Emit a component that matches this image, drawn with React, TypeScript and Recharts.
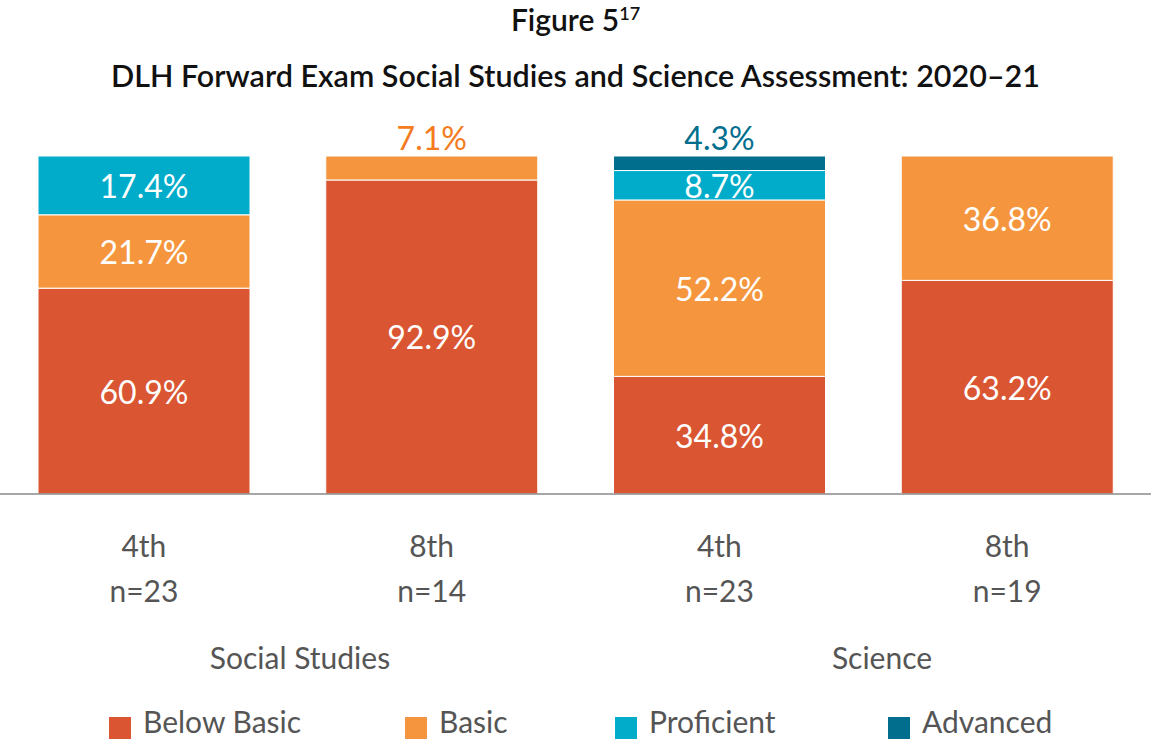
import React from 'react'
import { BarChart, Bar, XAxis, YAxis, LabelList } from 'recharts'

const grades = ['4th', '8th', '4th', '8th']
const counts = ['n=23', 'n=14', 'n=23', 'n=19']
const belowBasic = [60.9, 92.9, 34.8, 63.2]
const basic = [21.7, 7.1, 52.2, 36.8]
const proficient = [17.4, 0, 8.7, 0]
const advanced = [0, 0, 4.3, 0]

const subjects = [
  { name: 'Social Studies', center: 300 },
  { name: 'Science', center: 882 },
]

const series = [
  { key: 'belowBasic', name: 'Below Basic', color: '#DA5532', smallColor: '#DA5532' },
  { key: 'basic', name: 'Basic', color: '#F5963E', smallColor: '#F47B20' },
  { key: 'proficient', name: 'Proficient', color: '#00ACC9', smallColor: '#00ACC9' },
  { key: 'advanced', name: 'Advanced', color: '#006E8C', smallColor: '#006E8C' },
]

const data = grades.map((g, i) => ({
  id: i,
  grade: g,
  count: counts[i],
  belowBasic: belowBasic[i],
  basic: basic[i],
  proficient: proficient[i],
  advanced: advanced[i],
}))

const FONT = 'Lato, "Open Sans", sans-serif'

const makeLabel = (smallColor: string) => (props: any) => {
  const { x, y, width, height, value } = props
  if (!value) return null
  const small = value < 8
  return (
    <text
      x={x + width / 2}
      y={small ? y - 19 : y + height / 2}
      fill={small ? smallColor : '#fff'}
      textAnchor="middle"
      dominantBaseline="central"
      fontSize={32}
      fontFamily={FONT}
    >
      {value.toFixed(1)}%
    </text>
  )
}

const Tick = (props: any) => {
  const { x, y, payload } = props
  const i = payload.index
  return (
    <g fontFamily={FONT} fontSize={30} fill="#555">
      <text x={x} y={y + 43} textAnchor="middle" dominantBaseline="central">
        {grades[i]}
      </text>
      <text x={x} y={y + 88} textAnchor="middle" dominantBaseline="central">
        {counts[i]}
      </text>
    </g>
  )
}

export default function App() {
  return (
    <div style={{ position: 'absolute', left: 0, top: 0, width: 1151, height: 743, background: '#fff', fontFamily: FONT }}>
      <div style={{ position: 'absolute', top: 1, width: '100%', textAlign: 'center', fontSize: 30, fontWeight: 600, color: '#111' }}>
        Figure 5<sup style={{ fontSize: 18 }}>17</sup>
      </div>
      <div style={{ position: 'absolute', top: 57, width: '100%', textAlign: 'center', fontSize: 30.5, fontWeight: 600, color: '#111' }}>
        DLH Forward Exam Social Studies and Science Assessment: 2020–21
      </div>
      <BarChart
        width={1151}
        height={620}
        data={data}
        margin={{ top: 156, right: 0, bottom: 0, left: 0 }}
        barSize={212}
        style={{ position: 'absolute', top: 0, left: 0 }}
      >
        <YAxis hide domain={[0, 100]} />
        <XAxis
          dataKey="id"
          height={126}
          tickLine={false}
          axisLine={{ stroke: '#8a8a8a', strokeWidth: 1.5 }}
          tick={<Tick />}
          interval={0}
        />
        {series.map((s) => (
          <Bar key={s.key} dataKey={s.key} name={s.name} stackId="a" fill={s.color} stroke="#fff" strokeWidth={1} isAnimationActive={false}>
            <LabelList dataKey={s.key} content={makeLabel(s.smallColor)} />
          </Bar>
        ))}
      </BarChart>
      {subjects.map((s) => (
        <div
          key={s.name}
          style={{ position: 'absolute', top: 639, left: s.center - 150, width: 300, textAlign: 'center', fontSize: 30, color: '#555' }}
        >
          {s.name}
        </div>
      ))}
      {series.map((s, i) => (
        <div
          key={s.key}
          style={{ position: 'absolute', top: 703, left: [109, 405, 615, 888][i], display: 'flex', alignItems: 'center', fontSize: 30, color: '#555' }}
        >
          <span style={{ display: 'inline-block', width: 22, height: 22, background: s.color, marginRight: 12, marginTop: 14 }} />
          {s.name}
        </div>
      ))}
    </div>
  )
}
